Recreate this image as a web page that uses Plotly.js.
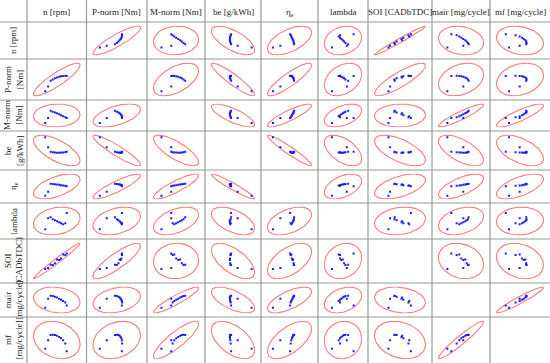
<!DOCTYPE html>
<html><head><meta charset="utf-8">
<script src="https://cdn.plot.ly/plotly-3.0.1.min.js"></script>
<style>html,body{margin:0;padding:0;background:#fff}</style>
</head><body><div id="chart" style="width:550px;height:363px"></div>
<script>
// ---- data (11 operating points, ordered by engine speed) ----
const n_rpm  = [1000, 1400, 1750, 2050, 2350, 2650, 2950, 3200, 3500, 3800, 4000];
const p_norm = [5, 16, 29, 32, 34.5, 36.5, 38, 39.2, 40, 40.3, 40];
const m_norm = [155, 190, 240, 234, 228, 222, 215, 208, 201, 195, 190];
const be_gkwh = [326, 275, 251, 249, 247.5, 246.5, 246.5, 247, 248, 249.5, 251];
const eta_e  = [0.252, 0.286, 0.3495, 0.348, 0.3465, 0.345, 0.342, 0.339, 0.3365, 0.3335, 0.331];
const lambda_ = [1.10, 1.32, 1.34, 1.30, 1.28, 1.26, 1.24, 1.22, 1.20, 1.22, 1.42];
const soi    = [6.0, 7.2, 10.6, 10.4, 12.0, 16.1, 15.6, 17.0, 21.3, 20.7, 22.5];
const mair   = [400, 520, 560, 555, 545, 535, 520, 505, 490, 470, 430];
const mf     = [20.5, 27, 31, 31.2, 31, 30.5, 29.5, 28.5, 27, 24.5, 18.5];

const colHeaders = ['n [rpm]', 'P-norm [Nm]', 'M-norm [Nm]', 'be [g/kWh]', 'η<sub>e</sub>', 'lambda', 'SOI [CADbTDC]', 'mair [mg/cycle]', 'mf [mg/cycle]'];
const rowHeaders = ['n [rpm]', 'P-norm<br>[Nm]', 'M-norm<br>[Nm]', 'be<br>[g/kWh]', 'η<sub>e</sub>', 'lambda', 'SOI<br>[CADbTDC]', 'mair<br>[mg/cycle]', 'mf<br>[mg/cycle]'];

const vars = [n_rpm, p_norm, m_norm, be_gkwh, eta_e, lambda_, soi, mair, mf];

// ---- layout geometry (pixels) ----
const W = 550, H = 363;
const colEdges = [0, 27, 86.5, 147, 205, 261, 318, 368, 432, 490, 550];
const rowEdges = [0, 22, 59, 100, 131, 170, 203, 239, 283, 317, 363];
const insetX = 5.5, insetY = 3.5;
const K = 3.3, PAD = 0.04;

function mean(a){return a.reduce((s,v)=>s+v,0)/a.length;}
function sd(a){const m=mean(a);return Math.sqrt(a.reduce((s,v)=>s+(v-m)*(v-m),0)/(a.length-1));}
function corr(a,b){const ma=mean(a),mb=mean(b);let s=0;for(let i=0;i<a.length;i++)s+=(a[i]-ma)*(b[i]-mb);return s/(a.length-1)/(sd(a)*sd(b));}

const traces = [];
const layout = {
  width: W, height: H, margin: {l:0,r:0,t:0,b:0},
  paper_bgcolor: '#ffffff', plot_bgcolor: 'rgba(0,0,0,0)',
  showlegend: false, shapes: [], annotations: [],
  font: {family: 'Liberation Serif, Times New Roman, serif', size: 9, color: '#222'}
};

let idx = 0;
for (let i = 0; i < 9; i++) {
  for (let j = 0; j < 9; j++) {
    if (i === j) continue;
    idx++;
    const sfx = idx === 1 ? '' : String(idx);
    const xv = vars[j], yv = vars[i];
    const mx = mean(xv), my = mean(yv), sx = sd(xv), sy = sd(yv), r = corr(xv, yv);
    const ex = [], ey = [];
    for (let k = 0; k <= 120; k++) {
      const t = 2*Math.PI*k/120;
      ex.push(mx + K*sx*Math.cos(t));
      ey.push(my + K*sy*(r*Math.cos(t) + Math.sqrt(Math.max(0,1-r*r))*Math.sin(t)));
    }
    traces.push({x: ex, y: ey, xaxis: 'x'+sfx, yaxis: 'y'+sfx, mode: 'lines',
      line: {color: '#f47c7c', width: 1.1}, hoverinfo: 'skip'});
    traces.push({x: xv, y: yv, xaxis: 'x'+sfx, yaxis: 'y'+sfx, mode: 'markers',
      marker: {color: '#1a1aff', size: 2, symbol: 'square', line: {width: 0}}, hoverinfo: 'skip'});
    const x0 = colEdges[j+1] + insetX, x1 = colEdges[j+2] - insetX;
    const y0 = rowEdges[i+1] + insetY, y1 = rowEdges[i+2] - insetY;
    const ax = {visible: false, showgrid: false, zeroline: false, fixedrange: true};
    layout['xaxis'+sfx] = Object.assign({}, ax, {domain: [x0/W, x1/W], anchor: 'y'+sfx,
      range: [mx - K*sx*(1+PAD), mx + K*sx*(1+PAD)]});
    layout['yaxis'+sfx] = Object.assign({}, ax, {domain: [1 - y1/H, 1 - y0/H], anchor: 'x'+sfx,
      range: [my - K*sy*(1+PAD), my + K*sy*(1+PAD)]});
  }
}

// grid lines
const gridColor = '#9a9a9a';
for (let c = 1; c < colEdges.length - 1; c++) {
  layout.shapes.push({type:'line', xref:'paper', yref:'paper', x0: colEdges[c]/W, x1: colEdges[c]/W, y0: 0, y1: 1,
    line:{color: gridColor, width: 1.2}});
}
for (let rr = 1; rr < rowEdges.length - 1; rr++) {
  layout.shapes.push({type:'line', xref:'paper', yref:'paper', x0: 0, x1: 1, y0: 1 - rowEdges[rr]/H, y1: 1 - rowEdges[rr]/H,
    line:{color: gridColor, width: 1.2}});
}

// headers
const hdrFont = {family:'Liberation Serif, serif', size: 9, color:'#222'};
for (let j = 0; j < 9; j++) {
  layout.annotations.push({text: colHeaders[j], xref:'paper', yref:'paper',
    x: (colEdges[j+1]+colEdges[j+2])/2/W, y: 1 - 12/H, xanchor:'center', yanchor:'middle',
    showarrow:false, font: hdrFont});
}
for (let i = 0; i < 9; i++) {
  layout.annotations.push({text: rowHeaders[i], xref:'paper', yref:'paper',
    x: 13.5/W, y: 1 - (rowEdges[i+1]+rowEdges[i+2])/2/H, xanchor:'center', yanchor:'middle',
    textangle: -90, showarrow:false, font: hdrFont});
}

Plotly.newPlot('chart', traces, layout, {staticPlot: true, displayModeBar: false});
</script>
</body></html>
